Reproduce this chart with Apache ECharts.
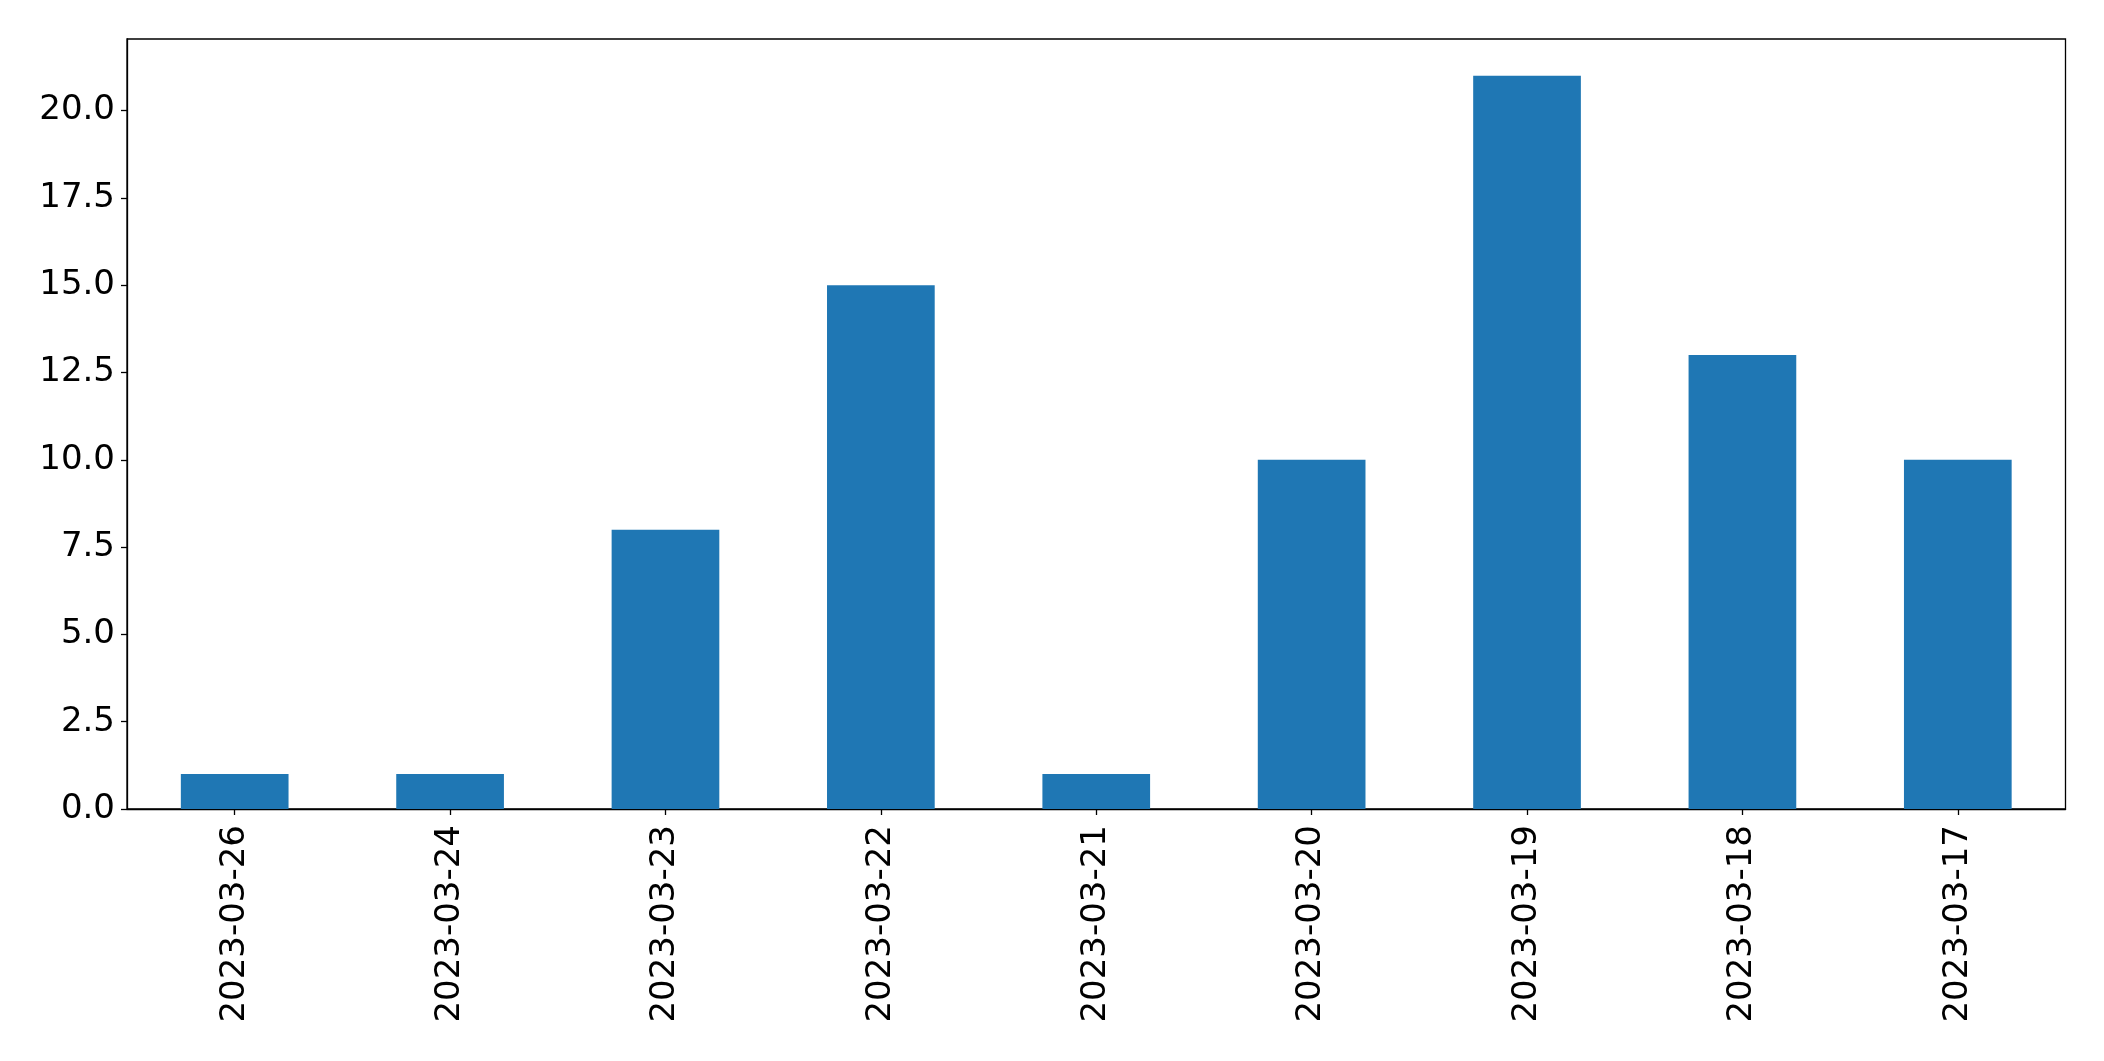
<!DOCTYPE html>
<html>
<head>
<meta charset="utf-8">
<script src="https://cdn.jsdelivr.net/npm/echarts@6/dist/echarts.min.js"></script>
<style>
html,body{margin:0;padding:0;background:#fff;}
#c{width:2104px;height:1061px;}
</style>
</head>
<body>
<div id="c"></div>
<script>
const categories = ["2023-03-26","2023-03-24","2023-03-23","2023-03-22","2023-03-21","2023-03-20","2023-03-19","2023-03-18","2023-03-17"];
const values = [1, 1, 8, 15, 1, 10, 21, 13, 10];
const yTicks = [0, 2.5, 5, 7.5, 10, 12.5, 15, 17.5, 20];

const chart = echarts.init(document.getElementById('c'));
chart.setOption({
  animation: false,
  backgroundColor: '#fff',
  textStyle: { fontFamily: 'DejaVu Sans' },
  grid: {
    left: 127, right: 38.5, top: 39, bottom: 252,
    show: true, borderColor: '#000', borderWidth: 1.3, backgroundColor: 'transparent'
  },
  xAxis: {
    type: 'category',
    data: categories,
    axisLine: { show: true, lineStyle: { color: '#000', width: 1.3 } },
    axisTick: { show: true, alignWithLabel: true, length: 6, lineStyle: { color: '#000', width: 1.3 } },
    axisLabel: { rotate: 90, fontSize: 34, color: '#000', margin: 16, fontFamily: 'DejaVu Sans', interval: 0 },
    splitLine: { show: false }
  },
  yAxis: {
    type: 'value',
    min: 0,
    max: 22.05,
    axisLine: { show: true, lineStyle: { color: '#000', width: 1.3 } },
    axisTick: { show: true, length: 6, lineStyle: { color: '#000', width: 1.3 }, customValues: yTicks },
    axisLabel: { fontSize: 34, color: '#000', margin: 12, fontFamily: 'DejaVu Sans', customValues: yTicks,
      formatter: v => Number(v).toFixed(1) },
    splitLine: { show: false }
  },
  series: [{
    type: 'bar',
    data: values,
    barCategoryGap: '50%',
    itemStyle: { color: '#1f77b4' }
  }]
});
</script>
</body>
</html>
